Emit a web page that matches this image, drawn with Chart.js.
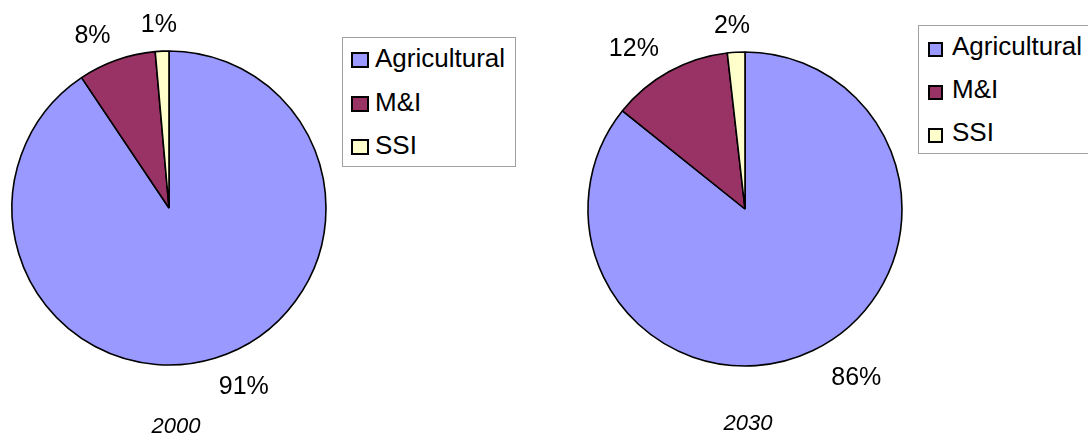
<!DOCTYPE html>
<html>
<head>
<meta charset="utf-8">
<script src="https://cdn.jsdelivr.net/npm/chart.js@4.4.0/dist/chart.umd.min.js"></script>
<style>
    body {
        margin: 0;
        width: 1088px;
        height: 440px;
        background: #fff;
        overflow: hidden;
        position: relative;
        font-family: 'Liberation Sans', Arial, sans-serif;
    }
    canvas { position: absolute; top: 0; }
    .legend {
        position: absolute;
        border: 1px solid #a0a0a0;
        background: #fff;
        box-sizing: border-box;
    }
    .legend-item {
        position: absolute;
        font-size: 26px;
        line-height: 26px;
        color: #000;
        white-space: nowrap;
    }
    .legend-swatch {
        position: absolute;
        box-sizing: border-box;
        border: 2px solid #000;
    }
</style>
</head>
<body>
<canvas id="chart2000" width="338" height="440" style="left:0px"></canvas>
<canvas id="chart2030" width="340" height="440" style="left:575px"></canvas>
<div id="legend2000" class="legend" style="left:342px; top:37px; width:174px; height:130px;"></div>
<div id="legend2030" class="legend" style="left:918px; top:25px; width:180px; height:129px;"></div>

<script>
// Dados (percentual de uso por setor)
const categorias = ['Agricultural', 'M&I', 'SSI'];
const valores2000 = [90.6, 8.0, 1.4];
const valores2030 = [85.75, 12.45, 1.8];
const anos = ['2000', '2030'];
const cores = ['#9999FF', '#993366', '#FFFFCC'];

// Plugin: rótulos de percentual fora das fatias + ano embaixo
const rotulosPizza = {
    id: 'rotulosPizza',
    afterDatasetsDraw(chart, args, opts) {
        const ctx = chart.ctx;
        const meta = chart.getDatasetMeta(0);
        const dados = chart.data.datasets[0].data;
        const total = dados.reduce((acc, v) => acc + v, 0);

        ctx.save();
        ctx.fillStyle = '#000';
        ctx.textAlign = 'center';
        ctx.textBaseline = 'alphabetic';
        ctx.font = '25px "Liberation Sans", Arial, sans-serif';

        let cx = 0;
        meta.data.forEach((arc, i) => {
            const p = arc.getProps(['x', 'y', 'startAngle', 'endAngle', 'outerRadius'], true);
            cx = p.x;
            const meio = (p.startAngle + p.endAngle) / 2;
            // rótulos da metade de baixo ficam um pouco mais afastados na horizontal
            const folgaX = Math.sin(meio) > 0 ? opts.folgaXBaixo : opts.folgaX;
            const lx = p.x + Math.cos(meio) * (p.outerRadius + folgaX);
            const ly = p.y + Math.sin(meio) * (p.outerRadius + opts.folgaY);
            ctx.fillText(Math.round(dados[i] / total * 100) + '%', lx, ly + 9);
        });

        ctx.font = 'italic 22px "Liberation Sans", Arial, sans-serif';
        ctx.fillText(opts.ano, cx + opts.anoDx, opts.anoY);
        ctx.restore();
    }
};

function criarPizza(canvasId, valores, ano, padBottom, anoDx, anoY) {
    return new Chart(document.getElementById(canvasId), {
        type: 'pie',
        data: {
            labels: categorias,
            datasets: [{
                data: valores,
                backgroundColor: cores,
                borderColor: '#000',
                borderWidth: 1.6
            }]
        },
        options: {
            responsive: false,
            animation: false,
            events: [],
            radius: 157,
            layout: { padding: { top: 0, left: 0, right: 0, bottom: padBottom } },
            plugins: {
                legend: { display: false },
                tooltip: { enabled: false },
                title: { display: false },
                rotulosPizza: { folgaX: 73, folgaXBaixo: 100, folgaY: 28, ano: ano, anoDx: anoDx, anoY: anoY }
            }
        },
        plugins: [rotulosPizza]
    });
}

// Legenda em HTML montada a partir das categorias/cores
function montarLegenda(elId, cfg) {
    const box = document.getElementById(elId);
    categorias.forEach((nome, i) => {
        const sw = document.createElement('div');
        sw.className = 'legend-swatch';
        sw.style.left = cfg.swLeft + 'px';
        sw.style.top = (cfg.swTop + cfg.passo * i) + 'px';
        sw.style.width = cfg.swW + 'px';
        sw.style.height = cfg.swH + 'px';
        sw.style.background = cores[i];
        box.appendChild(sw);

        const txt = document.createElement('div');
        txt.className = 'legend-item';
        txt.style.left = cfg.txtLeft + 'px';
        txt.style.top = (cfg.txtTop + cfg.passo * i) + 'px';
        txt.textContent = nome;
        box.appendChild(txt);
    });
}

document.addEventListener('DOMContentLoaded', function() {
    criarPizza('chart2000', valores2000, anos[0], 24, 7, 433);
    criarPizza('chart2030', valores2030, anos[1], 22, 3, 430);

    montarLegenda('legend2000', { swLeft: 8, swTop: 14, swW: 18, swH: 16, txtLeft: 32, txtTop: 7, passo: 43.7 });
    montarLegenda('legend2030', { swLeft: 9, swTop: 16, swW: 15, swH: 15, txtLeft: 33, txtTop: 7, passo: 42.8 });
});
</script>
</body>
</html>
